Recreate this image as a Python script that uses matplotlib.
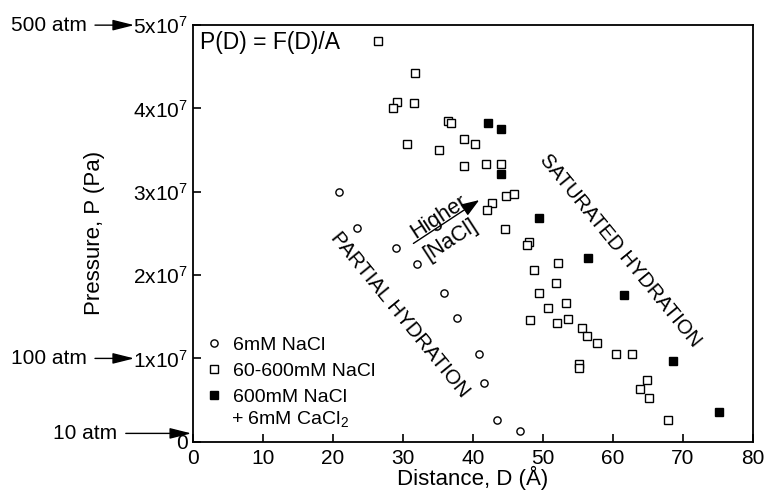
import matplotlib
matplotlib.use("Agg")
import matplotlib.pyplot as plt
from matplotlib.lines import Line2D
import numpy as np

plt.rcParams['font.family'] = ['Liberation Sans', 'DejaVu Sans']
plt.rcParams['mathtext.fontset'] = 'custom'
plt.rcParams['mathtext.rm'] = 'Liberation Sans'
plt.rcParams['mathtext.default'] = 'regular'

# 6mM NaCl (distance in Angstrom, pressure in MPa)
low_d = [20.9, 23.5, 29.0, 32.0, 35.9, 37.7, 40.9, 41.6, 43.5, 46.7]
low_p = [30.0, 25.7, 23.3, 21.3, 17.8, 14.9, 10.5, 7.0, 2.6, 1.3]

# 60-600mM NaCl
mid_d = [26.4, 31.7, 29.1, 28.6, 31.6, 36.4, 36.9, 30.6, 35.1, 38.7, 40.3,
         38.7, 41.9, 44.0, 44.7, 45.9, 42.7, 42.0, 44.6, 48.0, 47.7, 48.8,
         52.2, 51.9, 49.4, 53.3, 50.8, 48.2, 52.0, 53.6, 55.6, 56.3, 57.8,
         60.5, 62.8, 55.2, 55.2, 64.9, 63.9, 65.2, 67.9]
mid_p = [48.1, 44.3, 40.8, 40.1, 40.7, 38.5, 38.3, 35.7, 35.0, 36.3, 35.7,
         33.1, 33.3, 33.3, 29.5, 29.7, 28.6, 27.8, 25.5, 24.0, 23.6, 20.6,
         21.4, 19.0, 17.8, 16.7, 16.1, 14.6, 14.2, 14.7, 13.7, 12.7, 11.8,
         10.5, 10.5, 9.3, 8.8, 7.4, 6.3, 5.3, 2.6]

# 600mM NaCl + 6mM CaCl2
ca_d = [42.2, 44.0, 44.0, 49.5, 56.5, 61.6, 68.6, 75.2]
ca_p = [38.2, 37.5, 32.1, 26.9, 22.0, 17.6, 9.7, 3.6]

yticks = [0, 1e7, 2e7, 3e7, 4e7, 5e7]
ytick_labels = ['0'] + [f'{n}x10$^7$' for n in range(1, 6)]
xticks = [0, 10, 20, 30, 40, 50, 60, 70, 80]

fig = plt.figure(figsize=(7.65, 4.93), dpi=100)
ax = fig.add_axes([0.2523, 0.104, 0.7317, 0.845])

ms = 5.2
ax.plot(low_d, np.array(low_p) * 1e6, 'o', ms=ms, mfc='white', mec='black', mew=1.0)
ax.plot(mid_d, np.array(mid_p) * 1e6, 's', ms=ms, mfc='white', mec='black', mew=1.0)
ax.plot(ca_d, np.array(ca_p) * 1e6, 's', ms=ms, mfc='black', mec='black', mew=1.0)

ax.set_xlim(0, 80)
ax.set_ylim(0, 5e7)
ax.set_xticks(xticks)
ax.set_yticks(yticks, ytick_labels)
ax.tick_params(direction='in', length=6, width=1.2, labelsize=15)
ax.tick_params(axis='y', pad=4)
ax.tick_params(axis='x', pad=5)
for s in ax.spines.values():
    s.set_linewidth(1.3)

ax.set_xlabel('Distance, D (Å)', fontsize=16, labelpad=-1)
ax.set_ylabel('Pressure, P (Pa)', fontsize=16)
ax.yaxis.set_label_coords(-0.157, 0.5)

ax.text(0.012, 0.985, 'P(D) = F(D)/A', transform=ax.transAxes, fontsize=16.5,
        va='top', ha='left')

# rotated region labels
ax.text(29.6, 1.52e7, 'PARTIAL HYDRATION', rotation=-50.7, fontsize=14.8,
        ha='center', va='center', rotation_mode='anchor')
ax.text(61.0, 2.30e7, 'SATURATED HYDRATION', rotation=-50.7, fontsize=14.6,
        ha='center', va='center', rotation_mode='anchor')

ax.annotate('', xy=(40.9, 2.90e7), xytext=(31.5, 2.38e7),
            arrowprops=dict(arrowstyle='-|>,head_length=0.55,head_width=0.2',
                            color='black', lw=1.0,
                            mutation_scale=20, shrinkA=0, shrinkB=0))
ax.text(35.1, 2.70e7, 'Higher', rotation=33, fontsize=15.5,
        ha='center', va='center', rotation_mode='anchor')
ax.text(36.8, 2.42e7, '[NaCl]', rotation=33, fontsize=15.5,
        ha='center', va='center', rotation_mode='anchor')

# pressure markers on the left side
trans = ax.get_yaxis_transform()
for lab, yv, xt, xh in [('500 atm', 5e7, -0.19, -0.105),
                        ('100 atm', 1e7, -0.19, -0.105),
                        ('10 atm', 1e6, -0.135, -0.003)]:
    ax.annotate(lab, xy=(xh, yv), xycoords=trans, xytext=(xt, yv),
                textcoords=trans, fontsize=15, ha='right', va='center',
                annotation_clip=False,
                arrowprops=dict(arrowstyle='-|>,head_length=0.6,head_width=0.15',
                                color='black', lw=1.0,
                                mutation_scale=22, shrinkA=4, shrinkB=0))

handles = [
    Line2D([], [], ls='none', marker='o', ms=ms, mfc='white', mec='black', mew=1.0),
    Line2D([], [], ls='none', marker='s', ms=ms, mfc='white', mec='black', mew=1.0),
    Line2D([], [], ls='none', marker='s', ms=ms, mfc='black', mec='black', mew=1.0),
]
labels = ['6mM NaCl', '60-600mM NaCl', '600mM NaCl']
ax.legend(handles, labels, loc='upper left', bbox_to_anchor=(0.0, 0.285),
          frameon=False, fontsize=14, handlelength=0.8, handletextpad=0.55,
          labelspacing=0.42, borderaxespad=0.3)
ax.text(0.068, 0.054, '+ 6mM CaCl$_2$', transform=ax.transAxes, fontsize=14,
        ha='left', va='center')

fig.savefig('out.png', dpi=100)
